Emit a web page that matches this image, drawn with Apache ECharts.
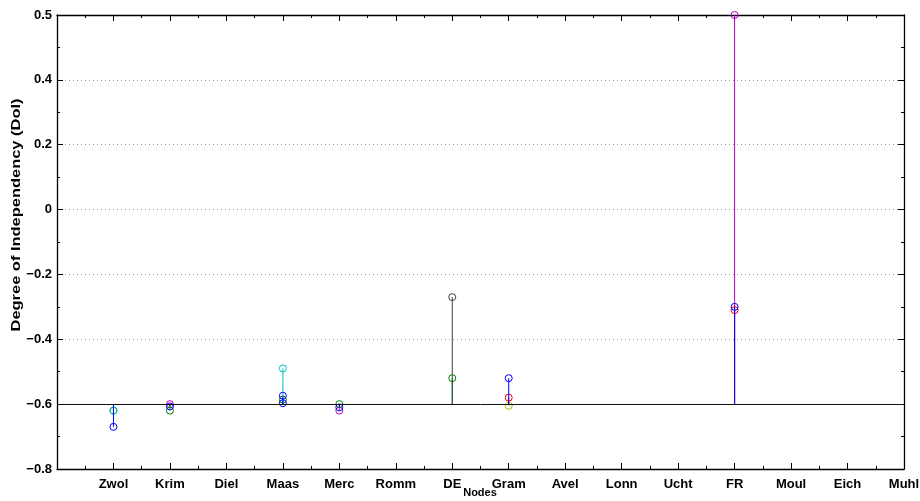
<!DOCTYPE html>
<html>
<head>
<meta charset="utf-8">
<script src="https://cdn.jsdelivr.net/npm/echarts@6/dist/echarts.min.js"></script>
<style>html,body{margin:0;padding:0;background:#fff;}#chart{width:920px;height:501px;}</style>
</head>
<body>
<div id="chart"></div>
<script>
// Node categories (x positions 1..15)
const categories = ['Zwol','Krim','Diel','Maas','Merc','Romm','DE','Gram','Avel','Lonn','Ucht','FR','Moul','Eich','Muhl'];
// y tick labels as printed on the reference (ticks at -0.8 .. 0.6 step 0.2; top tick is labelled 0.5)
const yTickLabels = ['\u22120.8','\u22120.6','\u22120.4','\u22120.2','0','0.2','0.4','0.5'];
const stemBase = -0.6;
// Series values per node (null = no stem)
const magentaVals = [null,-0.60,null,null,-0.62,null,null,null,null,null,null,0.6,null,null,null];
const oliveVals   = [null,null,null,null,null,null,null,-0.605,null,null,null,null,null,null,null];
const greenVals   = [-0.62,-0.62,null,-0.586,-0.60,null,-0.52,null,null,null,null,null,null,null,null];
const cyanVals    = [-0.62,null,null,-0.49,null,null,null,null,null,null,null,null,null,null,null];
const redVals     = [null,null,null,null,null,null,null,-0.58,null,null,null,-0.31,null,null,null];
const darkVals    = [null,null,null,null,null,null,-0.27,null,null,null,null,null,null,null,null];
const blueVals    = [-0.67,-0.607,null,-0.574,-0.61,null,null,-0.52,null,null,null,-0.30,null,null,null];
const blue2Vals   = [null,null,null,-0.597,null,null,null,null,null,null,null,null,null,null,null];

const seriesDefs = [
  {name:'m', vals:magentaVals, color:'#BF00BF'},
  {name:'y', vals:oliveVals, color:'#A8C000'},
  {name:'g', vals:greenVals, color:'#008000'},
  {name:'c', vals:cyanVals, color:'#00BFBF'},
  {name:'r', vals:redVals, color:'#FF0000'},
  {name:'k', vals:darkVals, color:'#404040'},
  {name:'b', vals:blueVals, color:'#0000FF'},
  {name:'b2', vals:blue2Vals, color:'#0000FF'}
];

const chart = echarts.init(document.getElementById('chart'));
const FONT = 'Liberation Sans, Arial, sans-serif';

function makeStem(color){
  return function(params, api){
    const x = api.value(0), v = api.value(1);
    const p0 = api.coord([x, stemBase]);
    const p1 = api.coord([x, v]);
    return {type:'group', children:[
      {type:'line', shape:{x1:p0[0],y1:p0[1],x2:p1[0],y2:p1[1]}, style:{stroke:color, lineWidth:1}},
      {type:'circle', shape:{cx:p1[0],cy:p1[1],r:3.5}, style:{fill:null, stroke:color, lineWidth:1}}
    ]};
  };
}

const series = seriesDefs.map(function(d){
  const data = [];
  d.vals.forEach(function(v,i){ if(v!==null) data.push([i+1, v]); });
  return {name:d.name, type:'custom', renderItem:makeStem(d.color), data:data, clip:false, silent:true, z:3};
});
series.push({type:'line', data:[], silent:true,
  markLine:{silent:true, symbol:'none', animation:false, label:{show:false},
    lineStyle:{color:'#111', width:1, type:'solid'}, data:[{yAxis:stemBase}]}});

const axisLineStyle = {color:'#000', width:1.3};
const xCommon = {type:'value', min:0, max:15, interval:1,
  axisLine:{show:true, onZero:false, lineStyle:axisLineStyle},
  axisTick:{show:true, inside:true, length:6, lineStyle:{color:'#000'}},
  minorTick:{show:true, splitNumber:2, length:3, lineStyle:{color:'#000'}},
  splitLine:{show:false}};
const yCommon = {type:'value', min:-0.8, max:0.6, interval:0.2,
  axisLine:{show:true, onZero:false, lineStyle:axisLineStyle},
  axisTick:{show:true, inside:true, length:6, lineStyle:{color:'#000'}},
  minorTick:{show:true, splitNumber:2, length:3, lineStyle:{color:'#000'}}};

chart.setOption({
  animation:false,
  backgroundColor:'#fff',
  grid:{left:57, right:16, top:15, bottom:32, containLabel:false, outerBoundsMode:'none'},
  xAxis:[
    Object.assign({}, xCommon, {position:'bottom',
      axisLabel:{margin:9, color:'#000', fontWeight:'bold', fontSize:13, fontFamily:FONT,
        formatter:function(v){ return categories[Math.round(v)-1] || ''; }}}),
    Object.assign({}, xCommon, {position:'top', axisLabel:{show:false}})
  ],
  yAxis:[
    Object.assign({}, yCommon, {position:'left',
      axisLabel:{margin:5, color:'#000', fontWeight:'bold', fontSize:13, fontFamily:FONT,
        formatter:function(v){ return yTickLabels[Math.round((v+0.8)/0.2)]; }},
      splitLine:{show:true, lineStyle:{color:'#999', type:[1,3], width:1}}}),
    Object.assign({}, yCommon, {position:'right', axisLabel:{show:false}, splitLine:{show:false}})
  ],
  graphic:[
    {type:'text', x:17, y:215, rotation:Math.PI/2, scaleX:1.37, scaleY:1,
      style:{text:'Degree of Independency (DoI)', fill:'#000', font:'bold 12px ' + FONT, align:'center', verticalAlign:'middle'}},
    {type:'text', x:480, y:493,
      style:{text:'Nodes', fill:'#000', font:'bold 11px ' + FONT, align:'center', verticalAlign:'middle'}}
  ],
  series:series
});
</script>
</body>
</html>
